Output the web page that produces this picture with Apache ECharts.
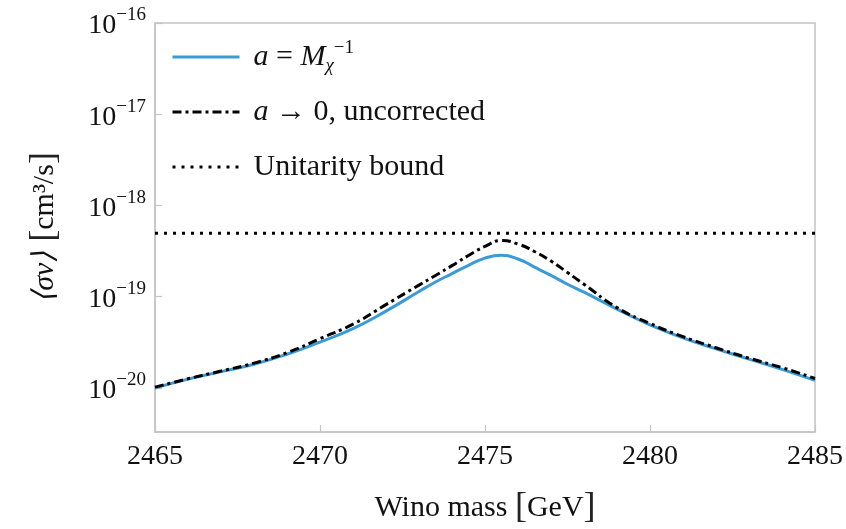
<!DOCTYPE html>
<html>
<head>
<meta charset="utf-8">
<script src="https://cdn.jsdelivr.net/npm/echarts@6/dist/echarts.min.js"></script>
<style>
html,body{margin:0;padding:0;background:#fff;}
#chart{width:846px;height:529px;}
</style>
</head>
<body>
<div id="chart"></div>
<script>
// ---- data ----
const masses = [2465, 2466, 2467, 2468, 2469, 2470, 2471, 2472, 2473, 2473.5, 2474, 2474.5, 2475, 2475.5, 2476, 2476.5, 2477, 2477.5, 2478, 2479, 2480, 2481, 2482, 2483, 2484, 2485];
const sigmaCorrected = [1.00e-20, 1.25e-20, 1.51e-20, 1.82e-20, 2.34e-20, 3.18e-20, 4.47e-20, 6.95e-20, 1.14e-19, 1.45e-19, 1.79e-19, 2.21e-19, 2.65e-19, 2.84e-19, 2.59e-19, 2.11e-19, 1.71e-19, 1.37e-19, 1.12e-19, 7.31e-20, 4.92e-20, 3.54e-20, 2.68e-20, 2.07e-20, 1.60e-20, 1.21e-20];
const sigmaUncorrected = [1.02e-20, 1.26e-20, 1.53e-20, 1.87e-20, 2.43e-20, 3.47e-20, 5.00e-20, 8.19e-20, 1.34e-19, 1.71e-19, 2.19e-19, 2.83e-19, 3.56e-19, 4.13e-19, 3.78e-19, 3.13e-19, 2.46e-19, 1.84e-19, 1.37e-19, 7.59e-20, 5.09e-20, 3.65e-20, 2.76e-20, 2.12e-20, 1.67e-20, 1.27e-20];
const unitarityMasses = [2465, 2485];
const unitarityBound = [4.95e-19, 4.95e-19];
const xTickValues = [2465, 2470, 2475, 2480, 2485];
const yTickExponents = [-20, -19, -18, -17, -16];
const seriesNames = ['a = M_chi^-1', 'a -> 0, uncorrected', 'Unitarity bound'];
const legendLabels = ['{i|a} = {i|M}{sub|χ}{sup|−1}', '{i|a} → 0, uncorrected', 'Unitarity bound'];

const FONT = 'Liberation Serif';
const pair = (xs, ys) => xs.map((x, i) => [x, ys[i]]);

const chart = echarts.init(document.getElementById('chart'), null, {renderer: 'canvas'});
const gray = '#c4c4c4';

chart.setOption({
  animation: false,
  backgroundColor: '#fff',
  grid: {left: 155, right: 31, top: 23, bottom: 97, show: true, borderColor: gray, borderWidth: 1.5, containLabel: false, outerBoundsMode: 'none'},
  legend: {
    orient: 'vertical',
    left: 166,
    top: 34,
    itemWidth: 67,
    itemHeight: 14,
    itemGap: 19,
    data: seriesNames,
    itemStyle: {opacity: 0},
    lineStyle: {width: 3},
    formatter: (name) => legendLabels[seriesNames.indexOf(name)],
    textStyle: {
      fontFamily: FONT, fontSize: 30, color: '#111', lineHeight: 36, padding: [0, 0, 0, 9],
      rich: {
        i: {fontFamily: FONT, fontSize: 30, fontStyle: 'italic', color: '#111'},
        sup: {fontFamily: FONT, fontSize: 19, verticalAlign: 'top', color: '#111'},
        sub: {fontFamily: FONT, fontSize: 19, fontStyle: 'italic', verticalAlign: 'bottom', color: '#111'}
      }
    }
  },
  xAxis: {
    type: 'value', min: 2465, max: 2485, interval: 5,
    name: '{t|Wino mass }{b|[}{t|GeV}{b|]}',
    nameLocation: 'middle', nameGap: 58,
    nameTextStyle: {
      fontFamily: FONT, color: '#111',
      rich: {t: {fontFamily: FONT, fontSize: 30, color: '#111'}, b: {fontFamily: FONT, fontSize: 36, color: '#222'}}
    },
    axisLine: {show: true, lineStyle: {color: gray, width: 1.5}},
    axisTick: {show: true, inside: true, length: 7, lineStyle: {color: gray, width: 1.2}},
    axisLabel: {
      fontFamily: FONT, fontSize: 28, color: '#111', margin: 11,
      formatter: (v) => xTickValues.includes(v) ? String(v) : ''
    },
    splitLine: {show: false}
  },
  yAxis: {
    type: 'log', logBase: 10, min: Math.pow(10, -20.483), max: 1e-16,
    name: '{i|⟨σv⟩}   {b|[}{t|cm³/s}{b|]}',
    nameLocation: 'middle', nameRotate: 90, nameGap: 92,
    nameTextStyle: {
      fontFamily: FONT, color: '#111',
      rich: {
        i: {fontFamily: FONT, fontSize: 30, fontStyle: 'italic', color: '#111'},
        t: {fontFamily: FONT, fontSize: 30, color: '#111'},
        b: {fontFamily: FONT, fontSize: 36, color: '#222'}
      }
    },
    axisLine: {show: true, lineStyle: {color: gray, width: 1.5}},
    axisTick: {show: true, inside: true, length: 7, lineStyle: {color: gray, width: 1.2}},
    axisLabel: {
      showMinLabel: false,
      margin: 9,
      formatter: (v) => {
        const l = Math.log10(v);
        const e = Math.round(l);
        if (Math.abs(l - e) > 1e-6 || !yTickExponents.includes(e)) return '';
        return '{b|10}{s|−' + Math.abs(e) + '}';
      },
      rich: {
        b: {fontFamily: FONT, fontSize: 28, color: '#111', verticalAlign: 'bottom', padding: [6, 0, 0, 0]},
        s: {fontFamily: FONT, fontSize: 19, color: '#111', verticalAlign: 'top'}
      }
    },
    splitLine: {show: false}
  },
  series: [
    {
      name: seriesNames[0], type: 'line', data: pair(masses, sigmaCorrected),
      symbol: 'none', smooth: 0.5, z: 2,
      lineStyle: {color: '#3b9bd6', width: 3}, itemStyle: {color: '#3b9bd6'}
    },
    {
      name: seriesNames[1], type: 'line', data: pair(masses, sigmaUncorrected),
      symbol: 'none', smooth: 0.5, z: 3,
      lineStyle: {color: '#000', width: 3, type: [9, 4, 3, 4], cap: 'butt'}, itemStyle: {color: '#000'}
    },
    {
      name: seriesNames[2], type: 'line', data: pair(unitarityMasses, unitarityBound),
      symbol: 'none', z: 3,
      lineStyle: {color: '#000', width: 3, type: [3, 6], cap: 'butt'}, itemStyle: {color: '#000'}
    }
  ]
});
</script>
</body>
</html>
